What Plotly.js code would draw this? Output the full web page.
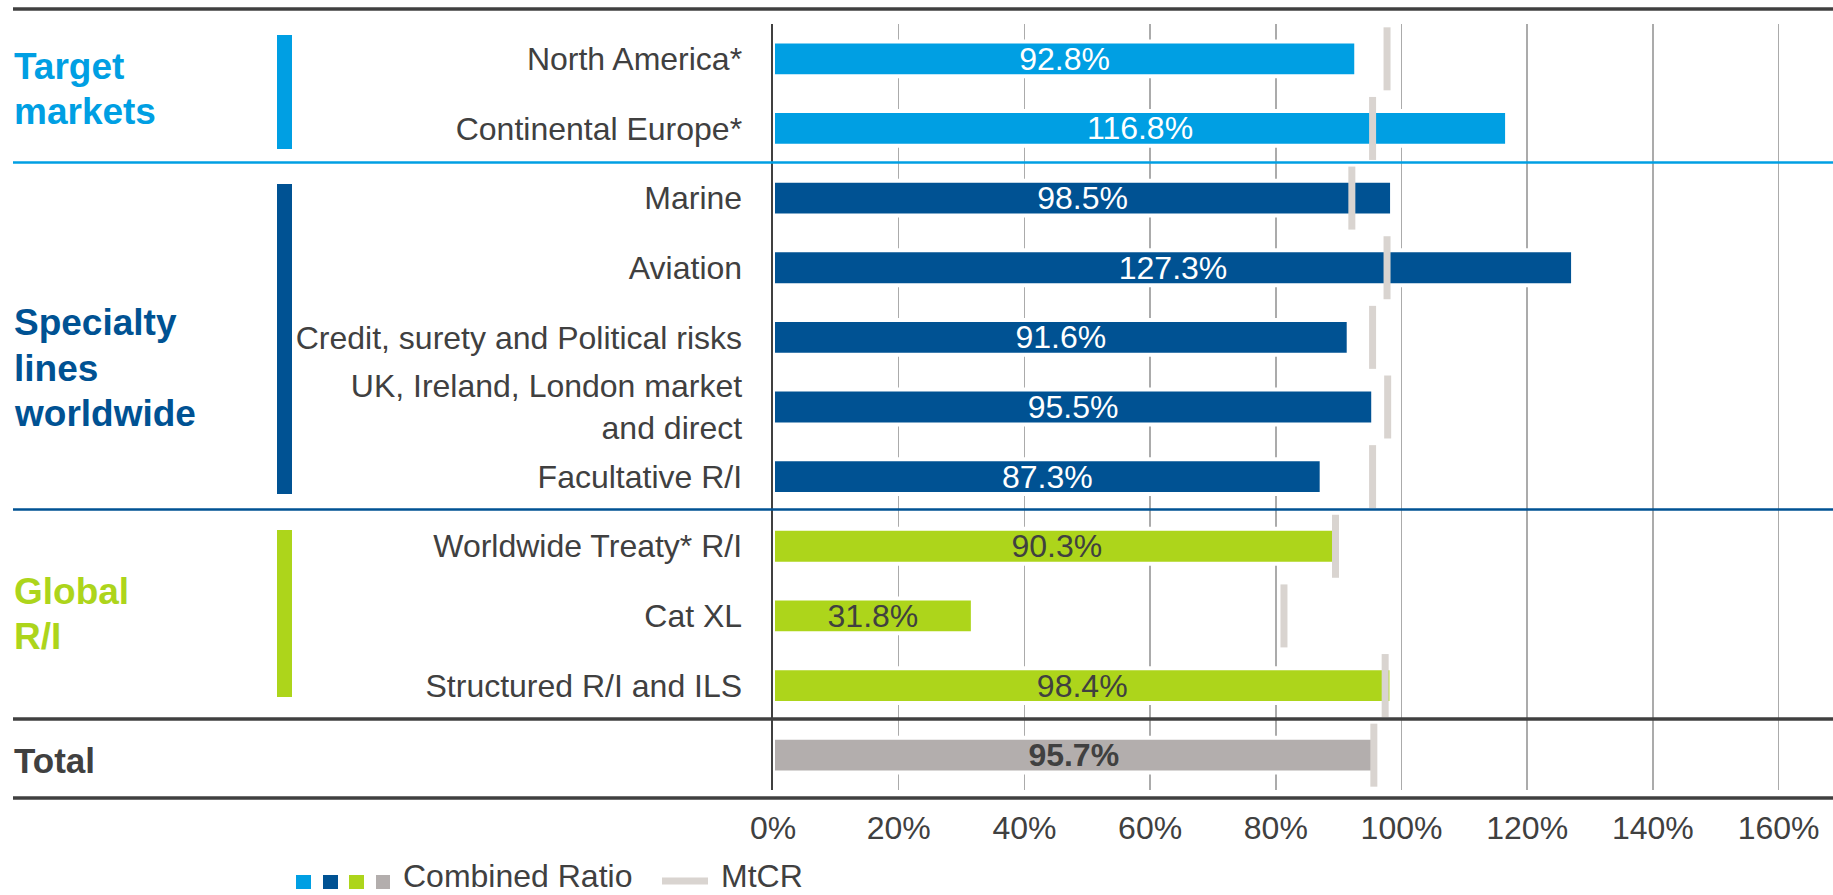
<!DOCTYPE html>
<html><head><meta charset="utf-8">
<script src="https://cdn.plot.ly/plotly-3.0.1.min.js"></script>
<style>html,body{margin:0;padding:0;background:#fff}#chart{width:1833px;height:895px}</style>
</head><body><div id="chart"></div>
<script>
// ---- data ----
const categories = ["North America*","Continental Europe*","Marine","Aviation","Credit, surety and Political risks","UK, Ireland, London market and direct","Facultative R/I","Worldwide Treaty* R/I","Cat XL","Structured R/I and ILS","Total"];
const categoryLabels = ["North America*","Continental Europe*","Marine","Aviation","Credit, surety and Political risks","UK, Ireland, London market<br>and direct","Facultative R/I","Worldwide Treaty* R/I","Cat XL","Structured R/I and ILS",""];
const combinedRatio = [92.8,116.8,98.5,127.3,91.6,95.5,87.3,90.3,31.8,98.4,95.7];
const mtcr = [97.7,95.4,92.1,97.7,95.4,97.8,95.4,89.5,81.3,97.4,95.6];
const segment = ["target","target","specialty","specialty","specialty","specialty","specialty","global","global","global","total"];
const xTicks = [0,20,40,60,80,100,120,140,160];
const xTickLabels = ["0%","20%","40%","60%","80%","100%","120%","140%","160%"];
const groupLines = [["Target","markets"],["Specialty","lines","worldwide"],["Global","R/I"],["Total"]];
const legendNames = ["Combined Ratio","MtCR"];

// ---- styles ----
const FONT = "Liberation Sans, Arial, sans-serif";
const TXT = "#404040";
const segColor = {target:"#009FE3", specialty:"#005293", global:"#ADD51B", total:"#B3AEAD"};
const segText = {target:"#FFFFFF", specialty:"#FFFFFF", global:"#404040", total:"#404040"};
const MT = "#D9D4D0";

const W = 1833, H = 895, ML = 773, MR = 0, MTOP = 24, MB = 105;
const PW = W - ML - MR, PH = H - MTOP - MB;
const px = x => (x - ML) / PW;          // page pixel -> paper x
const py = y => (H - MB - y) / PH;      // page pixel -> paper y

const barText = combinedRatio.map((v,i) => segment[i]==="total" ? "<b>"+v.toFixed(1)+"%</b>" : v.toFixed(1)+"%");

const bars = {
  type:"bar", orientation:"h", y:categories, x:combinedRatio,
  width:0.5,
  marker:{color:segment.map(s=>segColor[s]), line:{color:"#FFFFFF", width:4}},
  text:barText, textposition:"inside", insidetextanchor:"middle", textangle:0,
  constraintext:"none", cliponaxis:false,
  textfont:{family:FONT, size:32, color:segment.map(s=>segText[s])},
  hoverinfo:"skip"
};
const marks = {
  type:"scatter", mode:"markers", y:categories, x:mtcr,
  marker:{symbol:"line-ns", size:45, color:MT, line:{color:MT, width:7}},
  cliponaxis:false, hoverinfo:"skip"
};

const shapes = [];
const line = (y, color, w) => ({type:"line", xref:"paper", yref:"paper", x0:px(13), x1:1, y0:py(y), y1:py(y), line:{color:color, width:w}, layer:"above"});
shapes.push(line(9, TXT, 3.5));
shapes.push(line(162.5, segColor.target, 2.5));
shapes.push(line(509.5, segColor.specialty, 2.5));
shapes.push(line(719, TXT, 3.5));
shapes.push(line(798, TXT, 3.5));
const gbar = (y0, y1, color) => ({type:"rect", xref:"paper", yref:"paper", x0:px(277), x1:px(292), y0:py(y1), y1:py(y0), fillcolor:color, line:{width:0}});
shapes.push(gbar(35,149,segColor.target));
shapes.push(gbar(184,494,segColor.specialty));
shapes.push(gbar(530,697,segColor.global));
// legend swatches
[[296,311,"target"],[323,338,"specialty"],[349,364,"global"],[376,390,"total"]].forEach(s=>{
  shapes.push({type:"rect", xref:"paper", yref:"paper", x0:px(s[0]), x1:px(s[1]), y0:py(889), y1:py(875), fillcolor:segColor[s[2]], line:{width:0}});
});
shapes.push({type:"line", xref:"paper", yref:"paper", x0:px(662), x1:px(708), y0:py(881), y1:py(881), line:{color:MT, width:7}});

const ann = [];
const glab = (text, y, color, size) => ({xref:"paper", yref:"paper", x:px(12), y:py(y), xanchor:"left", yanchor:"middle", align:"left", showarrow:false, text:"<b>"+text+"</b>", font:{family:FONT, size:size, color:color}});
const groupY = [[66,111.5],[322.5,368,413.5],[591,636],[760]];
const groupCol = [segColor.target, segColor.specialty, segColor.global, TXT];
groupLines.forEach((lines,g)=>lines.forEach((t,k)=>ann.push(glab(t, groupY[g][k], groupCol[g], g===3?35:37))));
ann.push({xref:"paper", yref:"paper", x:px(401), y:py(876), xanchor:"left", yanchor:"middle", showarrow:false, text:legendNames[0], font:{family:FONT, size:32, color:TXT}});
ann.push({xref:"paper", yref:"paper", x:px(719), y:py(876), xanchor:"left", yanchor:"middle", showarrow:false, text:legendNames[1], font:{family:FONT, size:32, color:TXT}});

const layout = {
  width:W, height:H, margin:{l:ML, r:MR, t:MTOP, b:MB, pad:0},
  paper_bgcolor:"#FFFFFF", plot_bgcolor:"#FFFFFF", showlegend:false,
  font:{family:FONT, color:TXT},
  xaxis:{range:[0, PW/6.285], tickmode:"array", tickvals:xTicks, ticktext:xTickLabels,
    showgrid:true, gridcolor:"#ABABAB", gridwidth:1.5, zeroline:false, showline:false, ticks:"",
    tickfont:{family:FONT, size:32, color:TXT}, ticklabelstandoff:16, fixedrange:true},
  yaxis:{type:"category", categoryorder:"array", categoryarray:categories, range:[10.5,-0.5],
    tickmode:"array", tickvals:categories, ticktext:categoryLabels,
    showgrid:false, zeroline:false, showline:true, linecolor:TXT, linewidth:2.5, ticks:"",
    tickfont:{family:FONT, size:32, color:TXT}, ticklabelstandoff:22, fixedrange:true},
  shapes:shapes, annotations:ann, bargap:0.5
};
Plotly.newPlot("chart", [bars, marks], layout, {displayModeBar:false, staticPlot:true});
</script></body></html>
